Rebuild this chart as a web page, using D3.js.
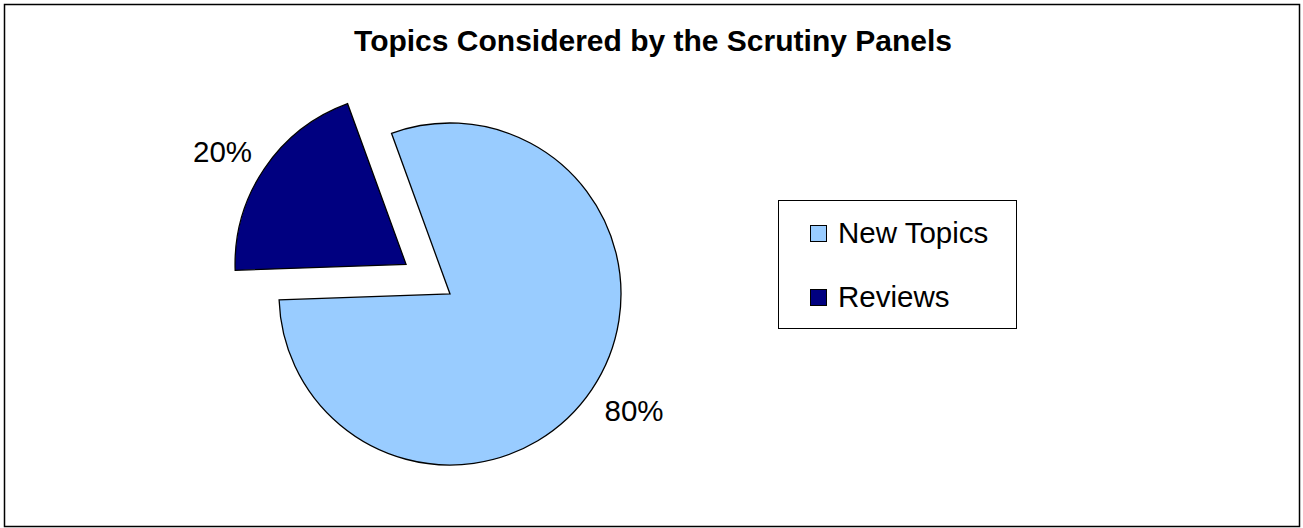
<!DOCTYPE html>
<html>
<head>
<meta charset="utf-8">
<script src="https://cdn.jsdelivr.net/npm/d3@7"></script>
<style>
  html, body { margin: 0; padding: 0; background: #fff; }
  svg { display: block; font-family: "Liberation Sans", Arial, sans-serif; }
</style>
</head>
<body>
<svg id="chart" width="1303" height="528"></svg>
<script>
// Chart data
const categories = ["New Topics", "Reviews"];
const values = [80, 20];
const colors = ["#99CCFF", "#000080"];
const explode = [0, 53];
const title = "Topics Considered by the Scrutiny Panels";

const svg = d3.select("#chart");

// outer frame
svg.append("rect")
  .attr("x", 4.5).attr("y", 4.5)
  .attr("width", 1295).attr("height", 522)
  .attr("fill", "#fff").attr("stroke", "#000").attr("stroke-width", 1.5);

// title
svg.append("text")
  .attr("x", 653).attr("y", 51)
  .attr("text-anchor", "middle")
  .attr("font-size", 30).attr("font-weight", "bold")
  .text(title);

const cx = 450, cy = 294, radius = 171;
const deg = Math.PI / 180;

const pie = d3.pie().sort(null)
  .startAngle(-20 * deg).endAngle(340 * deg)
  .value(d => d.value);

const data = categories.map((c, i) => ({ name: c, value: values[i], color: colors[i], explode: explode[i] }));
const arcs = pie(data);

const arc = d3.arc().innerRadius(0).outerRadius(radius);

const g = svg.append("g").attr("transform", `translate(${cx},${cy})`);

function offset(d) {
  const a = (d.startAngle + d.endAngle) / 2;
  return [Math.sin(a) * d.data.explode, -Math.cos(a) * d.data.explode];
}

g.selectAll("path.slice").data(arcs).enter().append("path")
  .attr("class", "slice")
  .attr("d", arc)
  .attr("transform", d => { const o = offset(d); return `translate(${o[0]},${o[1]})`; })
  .attr("fill", d => d.data.color)
  .attr("stroke", "#000")
  .attr("stroke-width", 1.3)
  .attr("stroke-linejoin", "miter");

// percentage labels outside each slice
const total = d3.sum(values);
const labelPos = { "New Topics": [634 - cx, 421 - cy], "Reviews": [222.5 - cx, 162 - cy] };
g.selectAll("text.pct").data(arcs).enter().append("text")
  .attr("class", "pct")
  .attr("x", d => labelPos[d.data.name][0])
  .attr("y", d => labelPos[d.data.name][1])
  .attr("text-anchor", "middle")
  .attr("font-size", 29.5)
  .text(d => Math.round(d.data.value / total * 100) + "%");

// legend
const legend = svg.append("g");
legend.append("rect")
  .attr("x", 778.5).attr("y", 200.5)
  .attr("width", 238).attr("height", 128)
  .attr("fill", "#fff").attr("stroke", "#000").attr("stroke-width", 1);

const legendRows = [233.5, 297.5];
const items = legend.selectAll("g.item").data(data).enter().append("g")
  .attr("class", "item")
  .attr("transform", (d, i) => `translate(0,${legendRows[i]})`);

items.append("rect")
  .attr("x", 810.5).attr("y", -8)
  .attr("width", 16).attr("height", 16)
  .attr("fill", d => d.color).attr("stroke", "#000").attr("stroke-width", 1);

items.append("text")
  .attr("x", 838).attr("y", 9.5)
  .attr("font-size", 29.5)
  .text(d => d.name);
</script>
</body>
</html>
